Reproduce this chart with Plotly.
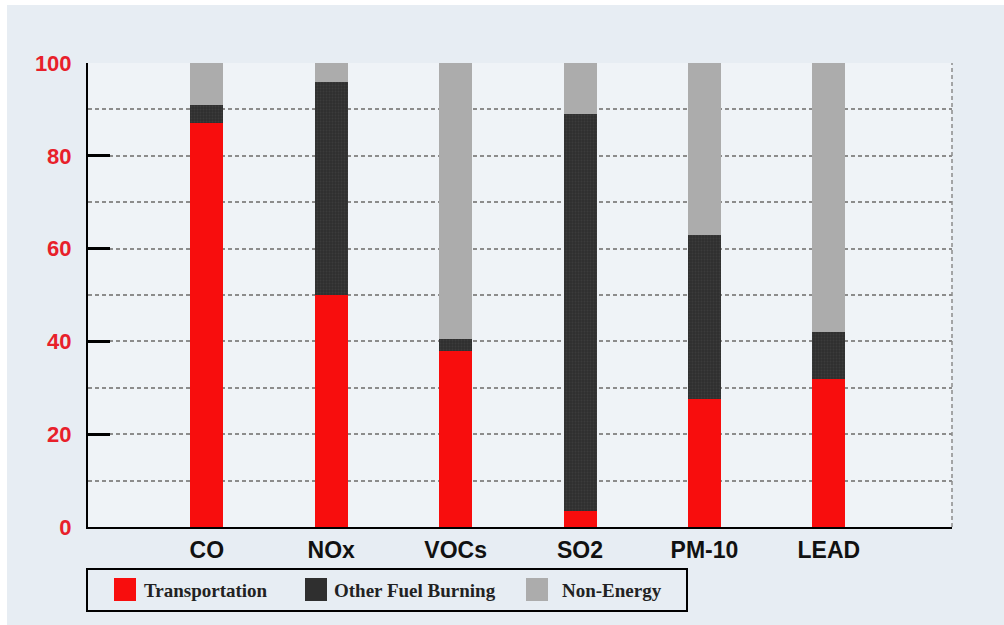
import plotly.graph_objects as go

# Share of emissions by source for each pollutant (percent)
pollutants = ["CO", "NOx", "VOCs", "SO2", "PM-10", "LEAD"]
transportation = [87, 50, 38, 3.5, 27.5, 32]
other_fuel = [4, 46, 2.5, 85.5, 35.5, 10]
non_energy = [9, 4, 59.5, 11, 37, 58]
series_names = ["Transportation", "Other Fuel Burning", "Non-Energy"]
y_ticks = [0, 20, 40, 60, 80, 100]

colors = ["#f80d0d", "#2f2f2f", "#acacac"]

W, H = 1004, 625
L, R, T, B = 88, 52, 63, 98
PW, PH = W - L - R, H - T - B


def px(x):
    """Page pixel x -> paper fraction."""
    return (x - L) / PW


def py(y):
    """Page pixel y (from top) -> paper fraction."""
    return (H - B - y) / PH


xpos = list(range(len(pollutants)))
fig = go.Figure()
for name, vals, col in zip(series_names, [transportation, other_fuel, non_energy], colors):
    marker = dict(color=col, line=dict(width=0))
    if name == "Other Fuel Burning":
        marker["pattern"] = dict(shape=".", fgcolor="#474747", size=3, solidity=0.35,
                                 fillmode="overlay")
    fig.add_trace(go.Bar(x=xpos, y=vals, name=name, marker=marker, width=0.265,
                         showlegend=False))

grid_col = "#8c8c8c"
fig.update_layout(
    width=W, height=H,
    margin=dict(l=L, r=R, t=T, b=B),
    barmode="stack",
    paper_bgcolor="#e7edf3",
    plot_bgcolor="#eff3f7",
    xaxis=dict(
        range=[-0.955, 5.99], tickvals=xpos, ticktext=pollutants,
        showgrid=False, zeroline=False, showline=True, linecolor="black", linewidth=2,
        ticks="", ticklabelstandoff=1,
        tickfont=dict(family="Liberation Sans", size=23, color="#111", weight="bold"),
    ),
    yaxis=dict(
        range=[0, 100], tickvals=y_ticks, zeroline=False,
        showline=True, linecolor="black", linewidth=2,
        ticks="inside", ticklen=22, tickwidth=2.5, tickcolor="black",
        showgrid=True, gridcolor=grid_col, gridwidth=1.5, griddash="4px,3px",
        minor=dict(tick0=0, dtick=10, showgrid=True, gridcolor=grid_col, gridwidth=1.5,
                   griddash="4px,3px", ticks=""),
        ticklabelstandoff=10,
        tickfont=dict(family="Liberation Sans", size=22, color="#e8202a", weight="bold"),
    ),
)

shapes = [
    # white frame strips at the top and left edges
    dict(type="rect", xref="paper", yref="paper", x0=px(0), x1=px(W), y0=py(5), y1=py(0),
         fillcolor="white", line=dict(width=0), layer="below"),
    dict(type="rect", xref="paper", yref="paper", x0=px(0), x1=px(7), y0=py(H), y1=py(0),
         fillcolor="white", line=dict(width=0), layer="below"),
    # dotted right border of the plot area
    dict(type="line", xref="paper", yref="paper", x0=1, x1=1, y0=0, y1=1,
         line=dict(color=grid_col, width=1.5, dash="4px,3px")),
    # legend frame
    dict(type="rect", xref="paper", yref="paper", x0=px(87), x1=px(687), y0=py(611), y1=py(569),
         line=dict(color="black", width=2), fillcolor="rgba(0,0,0,0)"),
]
annotations = []
swatch_x = [114, 305, 526]
label_x = [142, 332, 560]
for name, col, sx, lx in zip(series_names, colors, swatch_x, label_x):
    shapes.append(dict(type="rect", xref="paper", yref="paper", x0=px(sx), x1=px(sx + 22),
                       y0=py(601), y1=py(578), fillcolor=col, line=dict(width=0)))
    annotations.append(dict(xref="paper", yref="paper", x=px(lx), y=py(590), text=name,
                            showarrow=False, xanchor="left", yanchor="middle",
                            font=dict(family="Liberation Serif", size=19, color="#222",
                                      weight="bold")))
fig.update_layout(shapes=shapes, annotations=annotations)

fig.write_html("out.html")
